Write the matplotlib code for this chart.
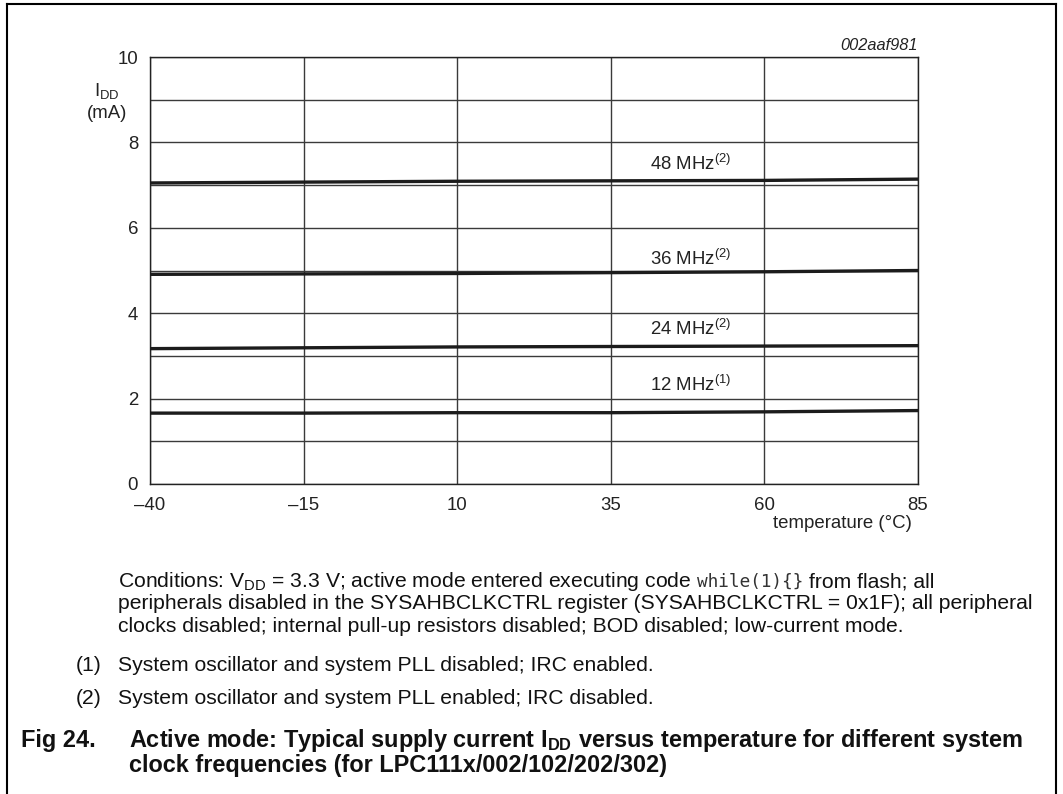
import matplotlib
matplotlib.use('Agg')
import matplotlib.pyplot as plt
from matplotlib.lines import Line2D

plt.rcParams['font.family'] = ['Liberation Sans', 'DejaVu Sans']
plt.rcParams['mathtext.fontset'] = 'custom'
plt.rcParams['mathtext.rm'] = 'Liberation Sans'
plt.rcParams['mathtext.it'] = 'Liberation Sans:italic'
plt.rcParams['mathtext.bf'] = 'Liberation Sans:bold'

# supply current I_DD (mA) vs temperature (degC)
temperature = [-40, -15, 10, 35, 60, 85]
idd_48mhz = [7.05, 7.07, 7.09, 7.10, 7.11, 7.14]
idd_36mhz = [4.91, 4.92, 4.93, 4.95, 4.97, 5.00]
idd_24mhz = [3.17, 3.19, 3.21, 3.22, 3.23, 3.24]
idd_12mhz = [1.66, 1.66, 1.67, 1.67, 1.69, 1.72]
curve_labels = ['48 MHz$^{(2)}$', '36 MHz$^{(2)}$', '24 MHz$^{(2)}$', '12 MHz$^{(1)}$']

x_ticks = [-40, -15, 10, 35, 60, 85]
y_ticks = [0, 2, 4, 6, 8, 10]

W, H = 1063, 794
fig = plt.figure(figsize=(W / 100, H / 100), dpi=100)
fig.patch.set_facecolor('white')

def px(x, y):
    # pixel coords (from top-left) -> figure fraction
    return x / W, 1 - y / H

ax = fig.add_axes([150 / W, 1 - 484 / H, (918 - 150) / W, (484 - 57) / H])
ax.set_xlim(-40, 85)
ax.set_ylim(0, 10)
ax.set_xticks(x_ticks)
ax.set_xticklabels(['\u2013' + str(-t) if t < 0 else str(t) for t in x_ticks])
ax.set_yticks(y_ticks)
ax.set_yticks(range(0, 11), minor=True)
ax.tick_params(which='both', length=0, labelsize=13.4, colors='#222222')
ax.tick_params(axis='x', pad=9)
ax.tick_params(axis='y', pad=8.5)
ax.grid(True, which='both', color='#3a3a3a', lw=1.0)
ax.set_axisbelow(True)
for s in ax.spines.values():
    s.set_color('#222222')
    s.set_linewidth(1.0)

series = [idd_48mhz, idd_36mhz, idd_24mhz, idd_12mhz]
label_pos = [7.5, 5.27, 3.63, 2.32]
for vals, lab, ly in zip(series, curve_labels, label_pos):
    ax.plot(temperature, vals, color='#1c1c1c', lw=2.4, solid_capstyle='butt', zorder=3)
    ax.text(48, ly, lab, fontsize=13.4, ha='center', va='center', color='#222222')

# axis titles
fig.text(*px(107, 91), 'I$_{\\rm DD}$', fontsize=13.4, ha='center', va='center', color='#222222')
fig.text(*px(107, 113), '(mA)', fontsize=13.4, ha='center', va='center', color='#222222')
fig.text(*px(912, 523), 'temperature (\u00b0C)', fontsize=13.4, ha='right', va='center', color='#222222')
fig.text(*px(918, 46), '002aaf981', fontsize=11.8, style='italic', ha='right', va='center', color='#222222')

# frame of the datasheet figure
fig.add_artist(Line2D([7 / W, 1056 / W], [1 - 4 / H, 1 - 4 / H], transform=fig.transFigure, color='black', lw=1.5))
fig.add_artist(Line2D([7 / W, 7 / W], [0, 1 - 4 / H], transform=fig.transFigure, color='black', lw=1.5))
fig.add_artist(Line2D([1056 / W, 1056 / W], [0, 1 - 4 / H], transform=fig.transFigure, color='black', lw=1.5))

# conditions paragraph
fs = 15.2
tc = '#111111'
renderer = fig.canvas.get_renderer()
t1 = fig.text(*px(118, 587), 'Conditions: V$_{\\rm DD}$ = 3.3 V; active mode entered executing code',
              fontsize=fs, va='baseline', color=tc)
bb = t1.get_window_extent(renderer)
t2 = fig.text((bb.x1 + 6) / W, 1 - 587 / H, 'while(1){}', family='DejaVu Sans Mono', fontsize=12.8,
              va='baseline', color='#333333')
bb2 = t2.get_window_extent(renderer)
fig.text((bb2.x1 + 5) / W, 1 - 587 / H, 'from flash; all', fontsize=fs, va='baseline', color=tc)
fig.text(*px(118, 609), 'peripherals disabled in the SYSAHBCLKCTRL register (SYSAHBCLKCTRL = 0x1F); all peripheral',
         fontsize=fs, va='baseline', color=tc)
fig.text(*px(118, 632), 'clocks disabled; internal pull-up resistors disabled; BOD disabled; low-current mode.',
         fontsize=fs, va='baseline', color=tc)

fig.text(*px(76, 671), '(1)', fontsize=fs, va='baseline', color=tc)
fig.text(*px(118, 671), 'System oscillator and system PLL disabled; IRC enabled.', fontsize=fs, va='baseline', color=tc)
fig.text(*px(76, 704), '(2)', fontsize=fs, va='baseline', color=tc)
fig.text(*px(118, 704), 'System oscillator and system PLL enabled; IRC disabled.', fontsize=fs, va='baseline', color=tc)

# caption
cs = 16.9
fig.text(*px(21, 747), 'Fig 24.', fontsize=cs, weight='bold', va='baseline', color=tc)
fig.text(*px(129, 747), 'Active mode: Typical supply current I$_{\\bf DD}$ versus temperature for different system',
         fontsize=cs, weight='bold', va='baseline', color=tc)
fig.text(*px(129, 772), 'clock frequencies (for LPC111x/002/102/202/302)', fontsize=cs, weight='bold',
         va='baseline', color=tc)

fig.savefig('out.png', dpi=100)
